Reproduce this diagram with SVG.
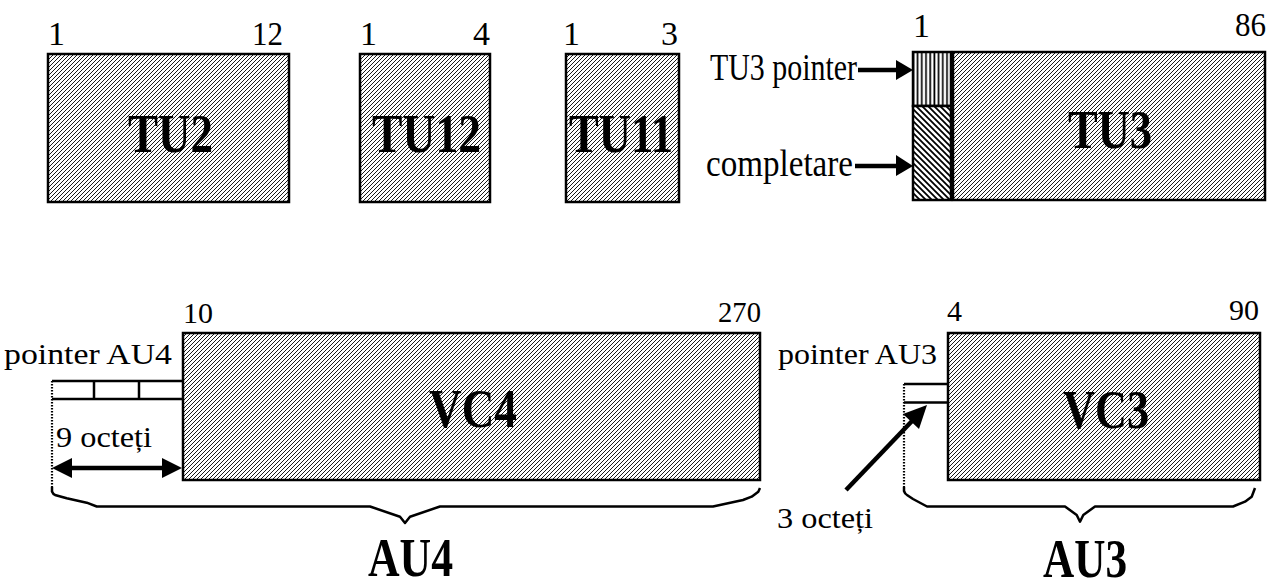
<svg xmlns="http://www.w3.org/2000/svg" width="1277" height="579" viewBox="0 0 1277 579">
<defs>
<pattern id="hatch" patternUnits="userSpaceOnUse" width="4" height="4">
<rect width="4" height="4" fill="#fff"/>
<path d="M-1,1 L1,-1 M0,4 L4,0 M3,5 L5,3" stroke="#000" stroke-width="0.9"/>
</pattern>
<pattern id="vert" patternUnits="userSpaceOnUse" width="4.2" height="10">
<rect width="4.2" height="10" fill="#fff"/>
<path d="M2,0 V10" stroke="#000" stroke-width="1.7"/>
</pattern>
<pattern id="back" patternUnits="userSpaceOnUse" width="6" height="6">
<rect width="6" height="6" fill="#fff"/>
<path d="M-1,-1 L7,7 M-1,5 L1,7 M5,-1 L7,1" stroke="#000" stroke-width="1.8"/>
</pattern>
</defs>
<style>
.box{fill:url(#hatch);stroke:#000;stroke-width:2.5}
.t{font-family:"Liberation Serif","Times New Roman",serif;fill:#000}
.n{font-size:34px}
.nb{font-size:30px}
.lb{font-size:54px;font-weight:bold;text-anchor:middle}
.r{font-size:37px}
.rb{font-size:30px}
.end{text-anchor:end}
.ln{fill:none;stroke:#000;stroke-width:2.5}
.dot{fill:none;stroke:#000;stroke-width:2.2;stroke-dasharray:1.6 1.4}
.ar{fill:none;stroke:#000;stroke-width:4.5}
.hd{fill:#000}
.br{fill:none;stroke:#000;stroke-width:2.5;stroke-linejoin:round}
</style>

<g id="tu2">
<rect class="box" x="48" y="54" width="241" height="148"/>
<text class="t n" x="48" y="45">1</text>
<text class="t n end" x="283" y="45" textLength="31" lengthAdjust="spacingAndGlyphs">12</text>
<text class="t lb" x="170.5" y="152" textLength="85" lengthAdjust="spacingAndGlyphs">TU2</text>
</g>

<g id="tu12">
<rect class="box" x="360" y="54" width="130" height="148"/>
<text class="t n" x="360" y="45">1</text>
<text class="t n end" x="490" y="45">4</text>
<text class="t lb" x="426.5" y="152" textLength="109" lengthAdjust="spacingAndGlyphs">TU12</text>
</g>

<g id="tu11">
<rect class="box" x="566" y="54" width="113" height="148"/>
<text class="t n" x="563" y="45">1</text>
<text class="t n end" x="678" y="45">3</text>
<text class="t lb" x="621" y="152" textLength="104" lengthAdjust="spacingAndGlyphs">TU11</text>
</g>

<g id="tu3">
<rect x="913" y="52" width="38" height="54" fill="url(#vert)" stroke="#000" stroke-width="2.5"/>
<rect x="913" y="106" width="38" height="94" fill="url(#back)" stroke="#000" stroke-width="2.5"/>
<rect class="box" x="953" y="52" width="312" height="148"/>
<text class="t n" x="913" y="37">1</text>
<text class="t n end" x="1266" y="36" textLength="31" lengthAdjust="spacingAndGlyphs">86</text>
<text class="t lb" x="1110" y="148" textLength="84" lengthAdjust="spacingAndGlyphs">TU3</text>
<text class="t r" x="710" y="80" textLength="147" lengthAdjust="spacingAndGlyphs">TU3 pointer</text>
<text class="t r" x="706" y="176" textLength="147" lengthAdjust="spacingAndGlyphs">completare</text>
</g>

<g id="au4">
<rect class="box" x="183" y="333" width="577" height="147"/>
<path class="ln" d="M52,381 H183 M52,399 H183 M94,381 V399 M139,381 V399"/>
<path class="dot" d="M52,381 V487"/>
<text class="t nb" x="183" y="323">10</text>
<text class="t nb end" x="761" y="322" textLength="43" lengthAdjust="spacingAndGlyphs">270</text>
<text class="t lb" x="473" y="427" textLength="88" lengthAdjust="spacingAndGlyphs">VC4</text>
<text class="t rb" x="4" y="364" textLength="168" lengthAdjust="spacingAndGlyphs">pointer AU4</text>
<text class="t rb" x="56" y="447" font-size="32" textLength="96" lengthAdjust="spacingAndGlyphs">9 octeți</text>
<text class="t lb" x="410.5" y="576" textLength="85" lengthAdjust="spacingAndGlyphs">AU4</text>
</g>

<g id="au3">
<rect class="box" x="948" y="333" width="312" height="147"/>
<path class="ln" d="M904,384 H948 M904,402.5 H948"/>
<path class="dot" d="M904,384 V487"/>
<text class="t nb" x="947" y="321">4</text>
<text class="t nb end" x="1259" y="320" textLength="30" lengthAdjust="spacingAndGlyphs">90</text>
<text class="t lb" x="1106" y="428" textLength="86" lengthAdjust="spacingAndGlyphs">VC3</text>
<text class="t rb" x="778" y="364" textLength="159" lengthAdjust="spacingAndGlyphs">pointer AU3</text>
<text class="t rb" x="777" y="528" font-size="34" textLength="96" lengthAdjust="spacingAndGlyphs">3 octeți</text>
<text class="t lb" x="1085" y="577" textLength="84" lengthAdjust="spacingAndGlyphs">AU3</text>
</g>

<g id="connectors">
<path class="ar" d="M858,70 H898"/>
<polygon class="hd" points="896,60 913,70 896,80"/>
<path class="ar" d="M855,166 H898"/>
<polygon class="hd" points="896,155 913,166 896,176"/>
<path class="ar" d="M70,468 H164"/>
<polygon class="hd" points="52,468 72,458 72,478"/>
<polygon class="hd" points="182,468 162,458 162,478"/>
<path class="ar" d="M846,490 L913,420"/>
<polygon class="hd" points="927,405 919,429 903,414"/>
<path class="br" d="M52,487 L52,491.5 Q53,494 55,495 L66.7,498.3 L86.7,502.7 L96.7,506.5 H370 L400,516.7 L405,523 L410,516.7 L440,506.5 H713 L743,500 L751.7,496.7 L758.3,491.7 L760,488"/>
<path class="br" d="M904,487 L904,491 Q905,494 907,495 L913,499 L927,506.5 H1065 L1076.7,515 L1080,521.7 L1083.3,515 L1095,506.5 H1233 L1245,501.7 L1251.7,496.7 L1255,488"/>
</g>
</svg>
